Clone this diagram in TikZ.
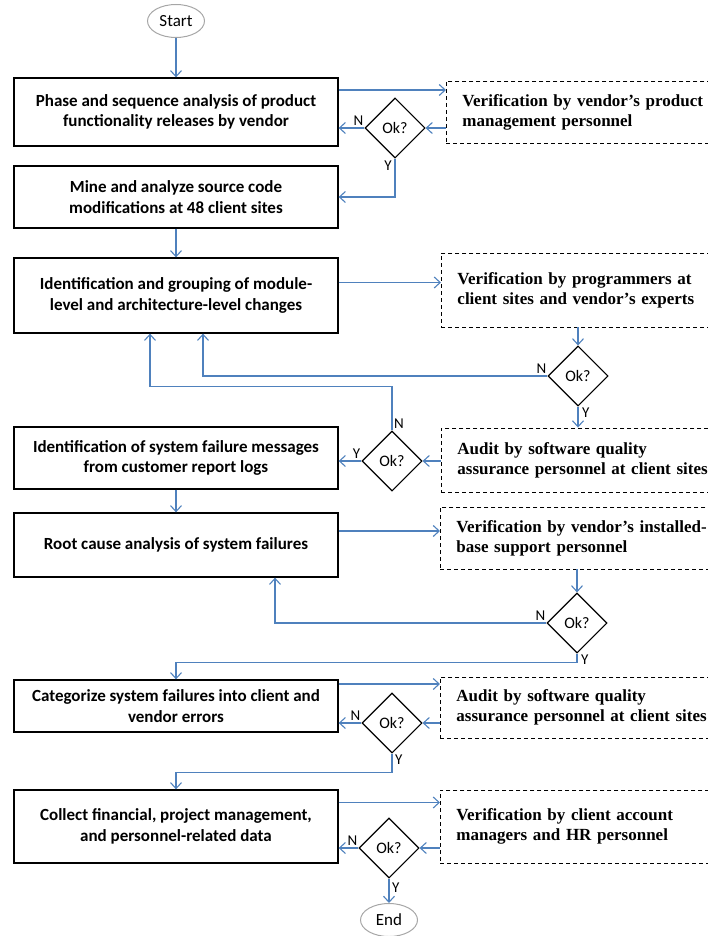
\documentclass[tikz,border=0pt]{standalone}
\usepackage{fontspec}
\setmainfont{Carlito}
\newfontfamily\tnr{Liberation Serif}
\usepackage{xcolor}
\usetikzlibrary{shapes.geometric,arrows.meta,positioning,calc}
\definecolor{lineblue}{RGB}{79,129,189}

\begin{document}
\begin{tikzpicture}[x=1pt, y=1pt,
    proc/.style={rectangle, draw, line width=1.3pt, minimum width=324pt, align=center, font=\bfseries\fontsize{17}{20.5}\selectfont},
    check/.style={rectangle, draw, dashed, line width=0.9pt, dash pattern=on 4pt off 3pt, text width=262pt, inner xsep=16pt, align=left, anchor=west, font=\tnr\bfseries\fontsize{17}{20}\selectfont},
    dec/.style={diamond, draw, line width=1.1pt, minimum width=60pt, minimum height=60pt, inner sep=0pt, font=\fontsize{16}{18}\selectfont},
    term/.style={ellipse, draw=gray!70, line width=1pt, minimum width=57pt, minimum height=33pt, inner sep=0pt, font=\fontsize{17}{20}\selectfont},
    lbl/.style={font=\fontsize{15}{17}\selectfont, inner sep=1pt},
    link/.style={lineblue, line width=1.1pt},
    >={Straight Barb[length=6pt,width=11pt]}]

    \useasboundingbox (0,0) rectangle (708,-936);

    % Start
    \node[term] (start) at (176,-21) {Start};

    % Product releases
    \node[proc, minimum height=68pt] (p1) at (176,-112) {Phase and sequence analysis of product\\functionality releases by vendor};
    \node[check, minimum height=62pt] (v1) at (446,-112) {Verification by vendor’s product\\management personnel};
    \node[dec] (q1) at (395,-128) {Ok?};
    \node[lbl, above left=1pt and 0pt of q1.west] (n1) {N};
    \node[lbl, below left=1pt and 2pt of q1.south] (y1) {Y};

    % Source code
    \node[proc, minimum height=62pt] (p2) at (176,-197) {Mine and analyze source code\\modifications at 48 client sites};

    % Module and architecture changes
    \node[proc, minimum height=75pt] (p3) at (176,-295.5) {Identification and grouping of module-\\level and architecture-level changes};
    \node[check, minimum height=74pt] (v2) at (441,-290) {Verification by programmers at\\client sites and vendor’s experts};
    \node[dec] (q2) at (578,-376) {Ok?};
    \node[lbl, above left=1pt and 0pt of q2.west] (n2) {N};
    \node[lbl, below right=0pt and 3pt of q2.south] (y2) {Y};

    % Failure messages
    \node[proc, minimum height=62pt] (p4) at (176,-458) {Identification of system failure messages\\from customer report logs};
    \node[check, minimum height=64pt] (v3) at (441,-460) {Audit by software quality\\assurance personnel at client sites};
    \node[dec] (q3) at (392,-461) {Ok?};
    \node[lbl, above left=1pt and 0pt of q3.west] (y3) {Y};
    \node[lbl, above right=1pt and 1pt of q3.north] (n3) {N};

    % Root cause
    \node[proc, minimum height=64pt] (p5) at (176,-545) {Root cause analysis of system failures};
    \node[check, minimum height=62pt] (v4) at (440,-538) {Verification by vendor’s installed-\\base support personnel};
    \node[dec] (q4) at (577,-623) {Ok?};
    \node[lbl, above left=1pt and 0pt of q4.west] (n4) {N};
    \node[lbl, below right=0pt and 3pt of q4.south] (y4) {Y};

    % Client and vendor errors
    \node[proc, minimum height=52pt] (p6) at (176,-706) {Categorize system failures into client and\\vendor errors};
    \node[check, minimum height=61pt] (v5) at (440,-707.5) {Audit by software quality\\assurance personnel at client sites};
    \node[dec] (q5) at (392,-723) {Ok?};
    \node[lbl, above left=1pt and 0pt of q5.west] (n5) {N};
    \node[lbl, below right=0pt and 2pt of q5.south] (y5) {Y};

    % Other data
    \node[proc, minimum height=73pt] (p7) at (176,-826.5) {Collect financial, project management,\\and personnel-related data};
    \node[check, minimum height=73pt] (v6) at (440,-826.5) {Verification by client account\\managers and HR personnel};
    \node[dec] (q6) at (389,-848) {Ok?};
    \node[lbl, above left=1pt and 0pt of q6.west] (n6) {N};
    \node[lbl, below right=3pt and 2pt of q6.south] (y6) {Y};

    % End
    \node[term] (fin) at (389,-920) {End};

    % Connectors
    \draw[link, ->] (start) -- (p1);
    \draw[link, ->] ([yshift=22pt]p1.east) -- ([yshift=22pt]p1.east -| v1.west);
    \draw[link, ->] (v1.west |- q1.east) -- (q1.east);
    \draw[link, ->] (q1.west) -- (q1.west -| p1.east);
    \draw[link, ->] (q1.south) |- (p2.east);
    \draw[link, ->] (p2) -- (p3);

    \draw[link, ->] ([yshift=13pt]p3.east) -- ([yshift=13pt]p3.east -| v2.west);
    \draw[link, ->] (v2.south -| q2.north) -- (q2.north);
    \draw[link, ->] (q2.west) -| ([xshift=27pt]p3.south);
    \draw[link, ->] (q2.south) -- (q2.south |- v3.north);
    \draw[link, ->] (v3.west |- q3.east) -- (q3.east);
    \draw[link, ->] (q3.west) -- (q3.west -| p4.east);
    \draw[link, ->] (q3.north) -- ++(0,44) -| ([xshift=-26pt]p3.south);
    \draw[link, ->] (p4) -- (p5);

    \draw[link, ->] ([yshift=14pt]p5.east) -- ([yshift=14pt]p5.east -| v4.west);
    \draw[link, ->] (v4.south -| q4.north) -- (q4.north);
    \draw[link, ->] (q4.west) -| ([xshift=99pt]p5.south);
    \draw[link, ->] (q4.south) -- ++(0,-9) -| (p6.north);

    \draw[link, ->] ([yshift=22pt]p6.east) -- ([yshift=22pt]p6.east -| v5.west);
    \draw[link, ->] (v5.west |- q5.east) -- (q5.east);
    \draw[link, ->] (q5.west) -- (q5.west -| p6.east);
    \draw[link, ->] (q5.south) -- ++(0,-19) -| (p7.north);

    \draw[link, ->] ([yshift=24pt]p7.east) -- ([yshift=24pt]p7.east -| v6.west);
    \draw[link, ->] (v6.west |- q6.east) -- (q6.east);
    \draw[link, ->] (q6.west) -- (q6.west -| p7.east);
    \draw[link, ->] (q6) -- (fin);
\end{tikzpicture}
\end{document}
